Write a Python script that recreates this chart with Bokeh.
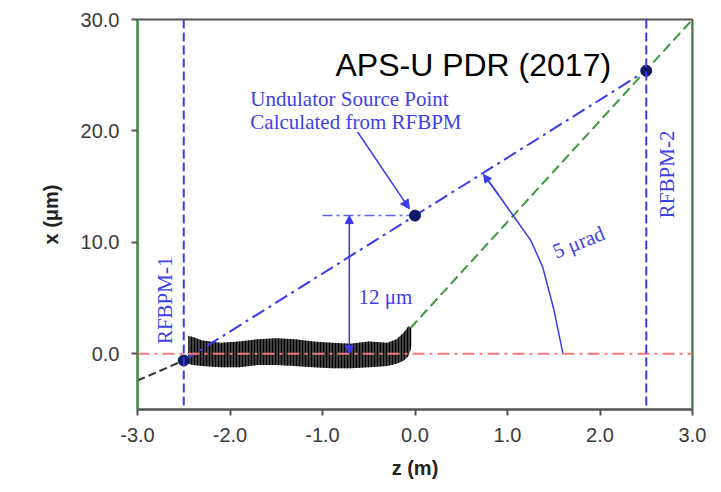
from bokeh.plotting import figure
from bokeh.models import Range1d, FixedTicker, NumeralTickFormatter, Span, Arrow, NormalHead
from bokeh.core.properties import value
from bokeh.embed import file_html
from bokeh.resources import INLINE

# ---- data ----
z_ticks = [-3, -2, -1, 0, 1, 2, 3]
x_ticks = [0, 10, 20, 30]

# measured orbit band (black noisy trace)
band_z = [-2.45, -2.4, -2.3, -2.1, -1.9, -1.7, -1.5, -1.3, -1.1, -0.9, -0.7, -0.5, -0.3, -0.2, -0.12, -0.07, -0.04]
band_top = [1.6, 1.5, 1.2, 1.0, 1.1, 1.3, 1.4, 1.3, 1.1, 1.0, 0.9, 1.1, 1.0, 1.3, 1.9, 2.5, 2.3]
band_bot = [-0.9, -1.0, -1.1, -1.2, -1.2, -1.0, -1.0, -1.1, -1.2, -1.3, -1.3, -1.2, -1.1, -0.9, -0.6, -0.2, 0.6]

# RFBPM positions and fitted points
bpm_z = [-2.5, 2.5]
pts_z = [-2.5, 0.0, 2.5]
pts_x = [-0.6, 12.4, 25.4]

# extrapolation lines
black_z = [-3.0, -2.5]
black_x = [-2.4, -0.6]
green_z = [-0.05, 3.0]
green_x = [2.3, 30.0]
ref_z = [-1.0, 0.0]
ref_x = [12.4, 12.4]

# 5 urad arc
arc_z = [1.60, 1.50, 1.38, 1.25, 1.07, 0.90, 0.78]
arc_x = [0.0, 4.0, 7.8, 10.2, 12.3, 14.3, 15.7]

BLUE = "#3b3bee"
BLUE_TXT = "#4040e8"
GREEN = "#3a9a3a"
RED = "#f27a7a"
NAVY = "#0d1a66"
SERIF = value("Liberation Serif")

p = figure(width=721, height=492, title=None,
           x_range=Range1d(-3, 3), y_range=Range1d(-5, 30),
           output_backend="svg", toolbar_location=None,
           min_border_left=137, min_border_right=29,
           min_border_top=19, min_border_bottom=83)
p.grid.visible = False
p.background_fill_color = "white"
p.border_fill_color = "white"
p.outline_line_color = "#555555"
p.outline_line_width = 2

# axes
p.xaxis.ticker = FixedTicker(ticks=z_ticks)
p.yaxis.ticker = FixedTicker(ticks=x_ticks)
p.xaxis.formatter = NumeralTickFormatter(format="0.0")
p.yaxis.formatter = NumeralTickFormatter(format="0.0")
for ax in (p.xaxis, p.yaxis):
    ax.major_tick_in = 0
    ax.major_tick_out = 6
    ax.minor_tick_out = 0
    ax.minor_tick_in = 0
    ax.major_tick_line_color = "#555555"
    ax.major_tick_line_width = 2
    ax.major_label_text_font = "Liberation Sans"
    ax.major_label_text_font_size = "20px"
    ax.major_label_text_color = "#3a3a3a"
    ax.major_label_standoff = 12
    ax.axis_label_text_font = "Liberation Sans"
    ax.axis_label_text_font_style = "bold"
    ax.axis_label_text_font_size = "20px"
    ax.axis_label_text_color = "#222222"
p.xaxis.axis_line_color = "#555555"
p.xaxis.axis_line_width = 2
p.yaxis.axis_line_color = GREEN
p.yaxis.axis_line_width = 2
p.xaxis.axis_label = "z (m)"
p.yaxis.axis_label = "x (μm)"
p.xaxis.axis_label_standoff = 12
p.yaxis.axis_label_standoff = 16

# measured band
p.varea(x=band_z, y1=band_bot, y2=band_top, fill_color="#2a2a2a", fill_alpha=0.9,
        hatch_pattern="vertical_line", hatch_color="black", hatch_scale=3, hatch_weight=1)

# reference lines
p.add_layout(Span(location=0, dimension="width", line_color=RED, line_width=2, line_dash="12 5 3 5"))
for zb in bpm_z:
    p.add_layout(Span(location=zb, dimension="height", line_color=BLUE, line_width=2, line_dash="9 4"))
for zg in (-3, 3):
    p.add_layout(Span(location=zg, dimension="height", line_color=GREEN, line_width=2))

p.line(black_z, black_x, line_color="#333333", line_width=2, line_dash="8 4")
p.line(green_z, green_x, line_color=GREEN, line_width=2, line_dash="10 5")
p.line([pts_z[0], pts_z[2]], [pts_x[0], pts_x[2]], line_color=BLUE, line_width=2, line_dash="14 5 3 5")
p.line(ref_z, ref_x, line_color=BLUE, line_width=1.5, line_dash="10 4 3 4", line_alpha=0.8)

# 12 um arrow
p.add_layout(Arrow(x_start=-0.71, y_start=0.0, x_end=-0.71, y_end=12.4,
                   line_color=BLUE, line_width=1.5,
                   start=NormalHead(size=8, fill_color=BLUE, line_color=BLUE),
                   end=NormalHead(size=8, fill_color=BLUE, line_color=BLUE)))

# annotation arrow to source point
p.add_layout(Arrow(x_start=-0.62, y_start=19.9, x_end=-0.06, y_end=13.0,
                   line_color=BLUE, line_width=1.5,
                   end=NormalHead(size=9, fill_color=BLUE, line_color=BLUE)))

# 5 urad arc
p.line(arc_z, arc_x, line_color=BLUE, line_width=1.5)
p.add_layout(Arrow(x_start=arc_z[-2], y_start=arc_x[-2], x_end=0.74, y_end=16.1,
                   line_color=BLUE, line_width=1.5,
                   end=NormalHead(size=8, fill_color=BLUE, line_color=BLUE)))

# points
p.scatter(pts_z, pts_x, size=11, fill_color=NAVY, line_color=NAVY)

# texts
p.text(x=[-0.86], y=[25.9], text=["APS-U PDR (2017)"], text_font=value("Liberation Sans"),
       text_font_size="32px", text_color="black", text_baseline="alphabetic", text_align="left")
p.text(x=[-1.78, -1.78], y=[22.9, 20.8], text=["Undulator Source Point", "Calculated from RFBPM"],
       text_font=SERIF, text_font_size="21px", text_color=BLUE_TXT,
       text_baseline="alphabetic", text_align="left")
p.text(x=[-0.61], y=[5.1], text=["12 μm"], text_font=SERIF, text_font_size="21px",
       text_color=BLUE_TXT, text_baseline="alphabetic", text_align="left")
p.text(x=[1.77], y=[10.0], text=["5 μrad"], text_font=SERIF, text_font_size="21px",
       text_color=BLUE_TXT, text_baseline="middle", text_align="center", angle=0.38)
p.text(x=[-2.70, 2.72], y=[4.8, 16.1], text=["RFBPM-1", "RFBPM-2"], text_font=SERIF,
       text_font_size="21px", text_color=BLUE_TXT, text_baseline="middle",
       text_align="center", angle=1.5708)

open("out.html", "w").write(file_html(p, INLINE))
